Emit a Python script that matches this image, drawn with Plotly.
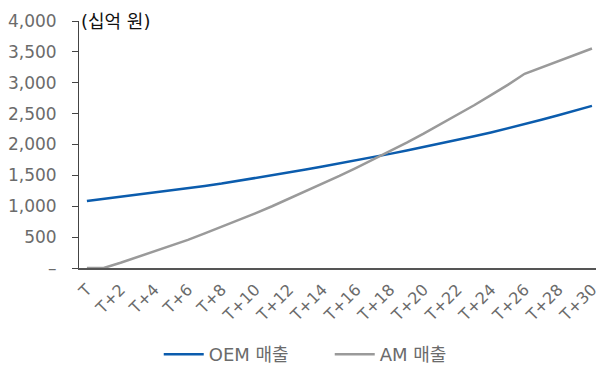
import plotly.graph_objects as go

categories = ["T"] + [f"T+{i}" for i in range(1, 31)]
oem_sales = [1085, 1118, 1152, 1186, 1220, 1255, 1291, 1328, 1367, 1410,
             1455, 1500, 1547, 1594, 1643, 1692, 1743, 1795, 1848, 1902,
             1958, 2015, 2073, 2133, 2195, 2260, 2328, 2400, 2473, 2548, 2626]
am_sales = [0, 0, 85, 175, 265, 360, 455, 560, 665, 775,
            885, 1000, 1120, 1240, 1365, 1490, 1620, 1755, 1890, 2030,
            2175, 2325, 2480, 2635, 2800, 2965, 3145, 3250, 3350, 3450, 3555]
y_tick_vals = [0, 500, 1000, 1500, 2000, 2500, 3000, 3500, 4000]
y_tick_text = ["–", "500", "1,000", "1,500", "2,000", "2,500", "3,000", "3,500", "4,000"]
x_tick_vals = categories[::2]

FONT = "DejaVu Sans, Noto Sans CJK KR, sans-serif"

fig = go.Figure()
fig.add_trace(go.Scatter(x=categories, y=oem_sales, mode="lines", name="OEM 매출",
                         line=dict(color="#0B5CAD", width=2.5)))
fig.add_trace(go.Scatter(x=categories, y=am_sales, mode="lines", name="AM 매출",
                         line=dict(color="#9A9A9A", width=2.5)))

fig.update_layout(
    width=600, height=373,
    margin=dict(l=79, r=0, t=21, b=104),
    paper_bgcolor="white", plot_bgcolor="white",
    font=dict(family=FONT, size=16, color="#6b6b6b"),
    showlegend=True,
    legend=dict(orientation="h", x=0.485, xanchor="center", y=-0.35, yanchor="middle",
                font=dict(size=18, color="#6b6b6b"), itemwidth=40,
                entrywidth=116, entrywidthmode="pixels"),
    xaxis=dict(type="category", range=[-0.47, 30.24], tickmode="array",
               tickvals=x_tick_vals, ticktext=x_tick_vals, tickangle=-45,
               showgrid=False, showline=True, linecolor="#555555", linewidth=2,
               ticks="", tickfont=dict(size=16, color="#6b6b6b"), zeroline=False,
               ticklabelstandoff=4),
    yaxis=dict(range=[0, 4000], tickmode="array", tickvals=y_tick_vals, ticktext=y_tick_text,
               showgrid=False, showline=True, linecolor="#444444", linewidth=1,
               ticks="outside", ticklen=6, tickcolor="#444444",
               tickfont=dict(size=17, color="#6b6b6b"), zeroline=False,
               ticklabelstandoff=12),
    annotations=[dict(text="(십억 원)", xref="paper", yref="paper", x=0, y=1.0,
                      xanchor="left", yanchor="middle", showarrow=False,
                      font=dict(size=18, color="#111111", family=FONT))],
)

fig.write_html("out.html")
